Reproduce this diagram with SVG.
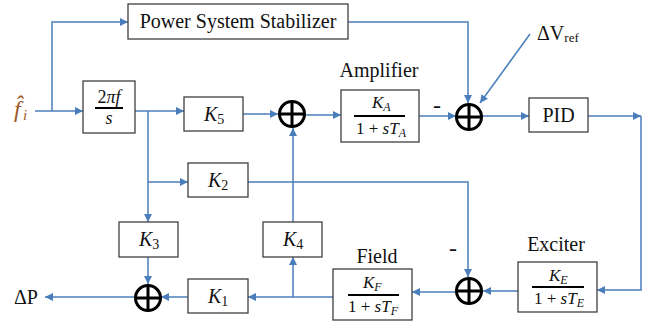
<svg xmlns="http://www.w3.org/2000/svg" width="657" height="324" viewBox="0 0 657 324">
<defs>
<marker id="ah" viewBox="0 0 10 10" refX="10" refY="5" markerWidth="9" markerHeight="8" markerUnits="userSpaceOnUse" orient="auto">
<path d="M0,0 L10,5 L0,10 z" fill="#4A7EBB"/>
</marker>
<style>
.box{fill:#fff;stroke:#3f3f3f;stroke-width:1.3}
.ln{fill:none;stroke:#4A7EBB;stroke-width:1.5}
.arr{marker-end:url(#ah)}
.t{font-family:"Liberation Serif","Times New Roman",serif;font-size:20px;fill:#111}
.m{font-family:"Liberation Serif","Times New Roman",serif;font-style:italic;fill:#111}
.up{font-style:normal}
.bar{stroke:#000;stroke-width:2}
.sum circle{fill:#fff;stroke:#000;stroke-width:3}
.sum path{stroke:#000;stroke-width:3}
</style>
</defs>
<rect width="657" height="324" fill="#fff"/>

<g id="connectors">
<path class="ln arr" d="M35,111 H83"/>
<path class="ln arr" d="M52,111 V22 H128"/>
<path class="ln arr" d="M135,111 H184"/>
<path class="ln arr" d="M243,114 H278"/>
<path class="ln arr" d="M306,115 H341"/>
<path class="ln arr" d="M419,116 H456"/>
<path class="ln arr" d="M348,22 H468 V103"/>
<path class="ln arr" d="M530,34 L480,103"/>
<path class="ln arr" d="M482,116 H529"/>
<path class="ln arr" d="M588,116 H641"/>
<path class="ln arr" d="M641,116 V290 H597"/>
<path class="ln arr" d="M518,291 H483"/>
<path class="ln arr" d="M456,292 H412"/>
<path class="ln arr" d="M333,297 H248"/>
<path class="ln arr" d="M293,297 V257"/>
<path class="ln arr" d="M293,222 V128"/>
<path class="ln arr" d="M148,111 V222"/>
<path class="ln arr" d="M148,182 H188"/>
<path class="ln arr" d="M248,182 H468 V277"/>
<path class="ln arr" d="M148,257 V284"/>
<path class="ln arr" d="M188,297 H161"/>
<path class="ln arr" d="M134,297 H45"/>
</g>

<g id="input">
<text class="m" x="14" y="117" font-size="24" style="fill:#9E5B2A">f̂<tspan x="23" dy="3" font-size="15">i</tspan></text>
</g>

<g id="pss">
<rect class="box" x="128" y="4" width="220" height="35"/>
<text class="t" x="238" y="28" text-anchor="middle">Power System Stabilizer</text>
</g>

<g id="integrator">
<rect class="box" x="83" y="81" width="52" height="52"/>
<text class="m" x="109" y="103" font-size="18" text-anchor="middle"><tspan class="up">2</tspan>πf</text>
<line class="bar" x1="95" y1="108" x2="123" y2="108"/>
<text class="m" x="109" y="124" font-size="18" text-anchor="middle">s</text>
</g>

<g id="k5">
<rect class="box" x="184" y="97" width="59" height="34"/>
<text class="m" x="204" y="121" font-size="20">K<tspan class="up" font-size="14" dy="3">5</tspan></text>
</g>

<g id="sum1" class="sum">
<circle cx="292" cy="114" r="12.5"/>
<path d="M279.5,114 H304.5 M292,101.5 V126.5"/>
</g>

<g id="amplifier">
<text class="t" x="379" y="77" text-anchor="middle">Amplifier</text>
<rect class="box" x="341" y="90" width="78" height="52"/>
<text class="m" x="372" y="108" font-size="17">K<tspan font-size="12" dy="3">A</tspan></text>
<line class="bar" x1="354" y1="116" x2="405" y2="116"/>
<text class="m" x="356" y="134" font-size="17"><tspan class="up">1 + </tspan>sT<tspan font-size="12" dy="3">A</tspan></text>
</g>

<text class="t" x="437" y="113" text-anchor="middle" style="font-size:24px">-</text>

<g id="sum2" class="sum">
<circle cx="469" cy="117" r="12.5"/>
<path d="M456.5,117 H481.5 M469,104.5 V129.5"/>
</g>

<g id="vref">
<text class="t" x="537" y="40">ΔV<tspan font-size="13" dy="2">ref</tspan></text>
</g>

<g id="pid">
<rect class="box" x="529" y="98" width="59" height="34"/>
<text class="t" x="558.5" y="122" text-anchor="middle">PID</text>
</g>

<g id="exciter">
<text class="t" x="556" y="251" text-anchor="middle">Exciter</text>
<rect class="box" x="518" y="262" width="79" height="50"/>
<text class="m" x="549" y="281" font-size="17">K<tspan font-size="12" dy="3">E</tspan></text>
<line class="bar" x1="532" y1="287" x2="584" y2="287"/>
<text class="m" x="534" y="304" font-size="17"><tspan class="up">1 + </tspan>sT<tspan font-size="12" dy="3">E</tspan></text>
</g>

<text class="t" x="453" y="256" text-anchor="middle" style="font-size:24px">-</text>

<g id="sum3" class="sum">
<circle cx="469" cy="291" r="12.5"/>
<path d="M456.5,291 H481.5 M469,278.5 V303.5"/>
</g>

<g id="field">
<text class="t" x="377" y="263" text-anchor="middle">Field</text>
<rect class="box" x="333" y="269" width="79" height="51"/>
<text class="m" x="363" y="288" font-size="17">K<tspan font-size="12" dy="3">F</tspan></text>
<line class="bar" x1="348" y1="295" x2="399" y2="295"/>
<text class="m" x="348" y="312" font-size="17"><tspan class="up">1 + </tspan>sT<tspan font-size="12" dy="3">F</tspan></text>
</g>

<g id="k2">
<rect class="box" x="188" y="163" width="60" height="34"/>
<text class="m" x="208" y="187" font-size="20">K<tspan class="up" font-size="14" dy="3">2</tspan></text>
</g>

<g id="k3">
<rect class="box" x="119" y="222" width="59" height="35"/>
<text class="m" x="139" y="246" font-size="20">K<tspan class="up" font-size="14" dy="3">3</tspan></text>
</g>

<g id="k4">
<rect class="box" x="263" y="222" width="59" height="35"/>
<text class="m" x="283" y="246" font-size="20">K<tspan class="up" font-size="14" dy="3">4</tspan></text>
</g>

<g id="k1">
<rect class="box" x="188" y="279" width="60" height="34"/>
<text class="m" x="208" y="303" font-size="20">K<tspan class="up" font-size="14" dy="3">1</tspan></text>
</g>

<g id="sum4" class="sum">
<circle cx="148" cy="298" r="12.5"/>
<path d="M135.5,298 H160.5 M148,285.5 V310.5"/>
</g>

<g id="output">
<text class="t" x="14" y="304">ΔP</text>
</g>
</svg>
